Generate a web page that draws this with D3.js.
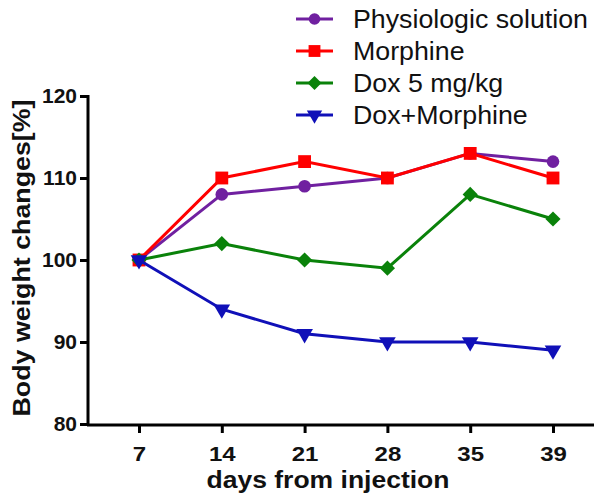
<!DOCTYPE html>
<html><head><meta charset="utf-8">
<script src="https://cdn.jsdelivr.net/npm/d3@7"></script>
<style>body{margin:0;background:#fff}svg{display:block}</style>
</head><body><svg id="c" width="600" height="502"></svg>
<script>
const days = ["7","14","21","28","35","39"];
const physiologic = [100,108,109,110,113,112];
const morphine = [100,110,112,110,113,110];
const dox = [100,102,100,99,108,105];
const doxMorphine = [100,94,91,90,90,89];
const yTicks = [80,90,100,110,120];
const seriesNames = ["Physiologic solution","Morphine","Dox 5 mg/kg","Dox+Morphine"];

const series = [
  {name:seriesNames[0], values:physiologic, color:"#7020a0", sym:d3.symbolCircle, size:125},
  {name:seriesNames[1], values:morphine, color:"#ff0000", sym:d3.symbolSquare, size:165},
  {name:seriesNames[2], values:dox, color:"#0a820a", sym:d3.symbolSquare, size:115, rot:45},
  {name:seriesNames[3], values:doxMorphine, color:"#1010b8", sym:d3.symbolTriangle, size:120, rot:180}
];

const svg = d3.select("#c");
const x = d3.scalePoint().domain(days).range([139,553]);
const y = d3.scaleLinear().domain([80,120]).range([424,96]);
const font = "Liberation Sans, Arial, sans-serif";

function stretch(sel, k){
  sel.each(function(){
    const w = this.getComputedTextLength();
    d3.select(this).attr("textLength", w*k).attr("lengthAdjust","spacingAndGlyphs");
  });
}

// y axis
const ya = svg.append("g").attr("transform","translate(88,0)")
  .call(d3.axisLeft(y).tickValues(yTicks).tickSize(8).tickPadding(3).tickSizeOuter(0));
ya.select(".domain").attr("stroke","#000").attr("stroke-width",3).attr("d","M0,424V95");
ya.selectAll(".tick line").attr("stroke","#000").attr("stroke-width",3);
ya.selectAll(".tick text").attr("font-family",font).attr("font-weight","bold").attr("font-size",21).attr("fill","#111");

// x axis
const xa = svg.append("g").attr("transform","translate(0,425)")
  .call(d3.axisBottom(x).tickSize(8).tickPadding(6).tickSizeOuter(0));
xa.select(".domain").attr("stroke","#000").attr("stroke-width",3).attr("d","M87,0H594");
xa.selectAll(".tick line").attr("stroke","#000").attr("stroke-width",3);
xa.selectAll(".tick text").attr("font-family",font).attr("font-weight","bold").attr("font-size",20).attr("fill","#111")
  .attr("dy",null).attr("y",36);
stretch(xa.selectAll(".tick text"), 1.2);

const xt = svg.append("text").attr("x",328).attr("y",488).attr("text-anchor","middle")
  .attr("font-family",font).attr("font-weight","bold").attr("font-size",23).attr("fill","#111")
  .text("days from injection");
xt.attr("textLength",243).attr("lengthAdjust","spacingAndGlyphs");
const yt = svg.append("text").attr("transform","translate(30,258) rotate(-90)").attr("text-anchor","middle")
  .attr("font-family",font).attr("font-weight","bold").attr("font-size",23).attr("fill","#111")
  .text("Body weight changes[%]");
yt.attr("textLength",317).attr("lengthAdjust","spacingAndGlyphs");

const line = d3.line().x((d,i)=>x(days[i])).y(d=>y(d));
series.forEach(s=>{
  const g = svg.append("g");
  g.append("path").attr("d",line(s.values)).attr("fill","none").attr("stroke",s.color).attr("stroke-width",3);
  g.selectAll("path.m").data(s.values).join("path").attr("class","m")
    .attr("d",d3.symbol().type(s.sym).size(s.size))
    .attr("transform",(d,i)=>`translate(${x(days[i])},${y(d)})${s.rot?` rotate(${s.rot})`:""}`)
    .attr("fill",s.color);
});

// legend
const lg = svg.append("g");
series.forEach((s,i)=>{
  const yy = 19 + i*32;
  lg.append("line").attr("x1",296).attr("x2",333).attr("y1",yy).attr("y2",yy).attr("stroke",s.color).attr("stroke-width",3);
  lg.append("path").attr("d",d3.symbol().type(s.sym).size(s.size*0.85))
    .attr("transform",`translate(314.5,${yy})${s.rot?` rotate(${s.rot})`:""}`).attr("fill",s.color);
  const t = lg.append("text").attr("x",353).attr("y",yy+9).attr("font-family",font).attr("font-size",25).attr("fill","#111").text(s.name);
  stretch(t, 1.07);
});
</script></body></html>
